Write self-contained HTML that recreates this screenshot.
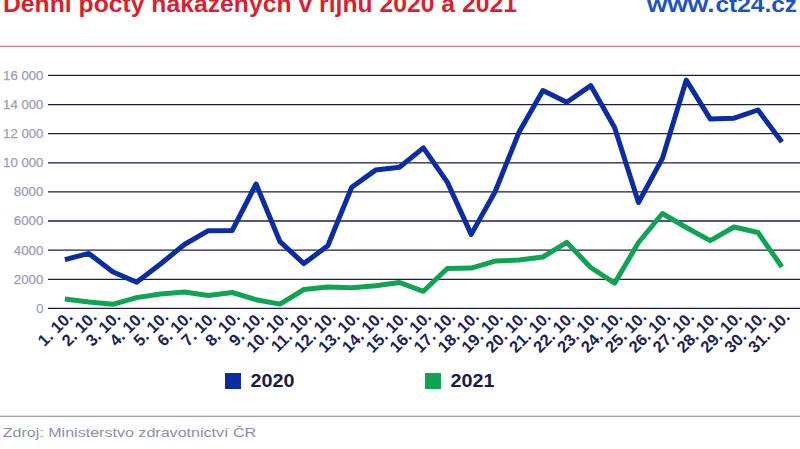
<!DOCTYPE html>
<html><head><meta charset="utf-8"><style>
html,body{margin:0;padding:0;background:#fff;width:800px;height:449px;overflow:hidden}
svg{display:block;font-family:"Liberation Sans",sans-serif}
</style></head><body>
<svg width="800" height="449" viewBox="0 0 800 449">
<text x="3" y="11.7" font-size="23.5" font-weight="bold" fill="#dc1f2e" textLength="514" lengthAdjust="spacingAndGlyphs">Denní počty nakažených v říjnu 2020 a 2021</text>
<g font-size="22" font-weight="bold" fill="#1d52c8"><text x="647" y="11.8" textLength="67.5" lengthAdjust="spacingAndGlyphs">www.</text><text x="715.5" y="11.8" textLength="81.5" lengthAdjust="spacingAndGlyphs">ct24.cz</text></g>
<rect x="0" y="45.7" width="800" height="1.2" fill="#c8787f"/>
<g font-size="12" fill="#9d9db9" stroke="#9d9db9" stroke-width="0.25">
<text x="36.2" y="312.7" textLength="7.2" lengthAdjust="spacingAndGlyphs">0</text>
<text x="13.8" y="283.6" textLength="29.6" lengthAdjust="spacingAndGlyphs">2000</text>
<text x="13.8" y="254.5" textLength="29.6" lengthAdjust="spacingAndGlyphs">4000</text>
<text x="13.8" y="225.3" textLength="29.6" lengthAdjust="spacingAndGlyphs">6000</text>
<text x="13.8" y="196.2" textLength="29.6" lengthAdjust="spacingAndGlyphs">8000</text>
<text x="3.1" y="167.1" textLength="40.3" lengthAdjust="spacingAndGlyphs">10 000</text>
<text x="3.1" y="138.0" textLength="40.3" lengthAdjust="spacingAndGlyphs">12 000</text>
<text x="3.1" y="108.9" textLength="40.3" lengthAdjust="spacingAndGlyphs">14 000</text>
<text x="3.1" y="79.7" textLength="40.3" lengthAdjust="spacingAndGlyphs">16 000</text>
</g>
<line x1="48" y1="308.4" x2="800" y2="308.4" stroke="#1c1c44" stroke-width="1.3"/>
<line x1="48" y1="279.3" x2="800" y2="279.3" stroke="#1c1c44" stroke-width="1.3"/>
<line x1="48" y1="250.2" x2="800" y2="250.2" stroke="#1c1c44" stroke-width="1.3"/>
<line x1="48" y1="221.0" x2="800" y2="221.0" stroke="#1c1c44" stroke-width="1.3"/>
<line x1="48" y1="191.9" x2="800" y2="191.9" stroke="#1c1c44" stroke-width="1.3"/>
<line x1="48" y1="162.8" x2="800" y2="162.8" stroke="#1c1c44" stroke-width="1.3"/>
<line x1="48" y1="133.7" x2="800" y2="133.7" stroke="#1c1c44" stroke-width="1.3"/>
<line x1="48" y1="104.6" x2="800" y2="104.6" stroke="#1c1c44" stroke-width="1.3"/>
<line x1="48" y1="75.4" x2="800" y2="75.4" stroke="#1c1c44" stroke-width="1.3"/>

<polyline points="64.9,299.0 88.8,302.1 112.7,304.3 136.6,297.6 160.5,294.0 184.4,292.1 208.3,295.4 232.2,292.5 256.1,299.7 280.0,304.1 303.9,289.5 327.8,287.0 351.7,287.7 375.6,285.7 399.5,282.5 423.4,291.3 447.3,268.5 471.2,268.1 495.1,261.1 519.0,260.1 542.9,257.0 566.8,242.4 590.7,267.5 614.6,283.2 638.5,242.5 662.4,213.5 686.3,227.5 710.2,240.6 734.1,227.0 758.0,232.5 781.9,267.0" fill="none" stroke="#0fa453" stroke-width="5" stroke-linejoin="round"/>
<polyline points="64.9,259.6 88.8,253.4 112.7,271.7 136.6,282.3 160.5,264.0 184.4,244.5 208.3,230.7 232.2,230.5 256.1,184.0 280.0,241.7 303.9,263.6 327.8,245.7 351.7,187.3 375.6,170.1 399.5,167.3 423.4,147.9 447.3,182.1 471.2,234.4 495.1,191.7 519.0,132.2 542.9,90.6 566.8,102.3 590.7,85.6 614.6,127.4 638.5,202.5 662.4,158.4 686.3,80.1 710.2,118.9 734.1,118.2 758.0,110.0 781.9,142.1" fill="none" stroke="#0c2ca4" stroke-width="5" stroke-linejoin="round"/>
<g font-size="16.5" font-weight="bold" fill="#1a1f5c">
<text transform="translate(73.8,318) rotate(-45)" text-anchor="end">1. 10.</text>
<text transform="translate(97.7,318) rotate(-45)" text-anchor="end">2. 10.</text>
<text transform="translate(121.6,318) rotate(-45)" text-anchor="end">3. 10.</text>
<text transform="translate(145.5,318) rotate(-45)" text-anchor="end">4. 10.</text>
<text transform="translate(169.4,318) rotate(-45)" text-anchor="end">5. 10.</text>
<text transform="translate(193.3,318) rotate(-45)" text-anchor="end">6. 10.</text>
<text transform="translate(217.2,318) rotate(-45)" text-anchor="end">7. 10.</text>
<text transform="translate(241.1,318) rotate(-45)" text-anchor="end">8. 10.</text>
<text transform="translate(265.0,318) rotate(-45)" text-anchor="end">9. 10.</text>
<text transform="translate(288.9,318) rotate(-45)" text-anchor="end">10. 10.</text>
<text transform="translate(312.8,318) rotate(-45)" text-anchor="end">11. 10.</text>
<text transform="translate(336.7,318) rotate(-45)" text-anchor="end">12. 10.</text>
<text transform="translate(360.6,318) rotate(-45)" text-anchor="end">13. 10.</text>
<text transform="translate(384.5,318) rotate(-45)" text-anchor="end">14. 10.</text>
<text transform="translate(408.4,318) rotate(-45)" text-anchor="end">15. 10.</text>
<text transform="translate(432.3,318) rotate(-45)" text-anchor="end">16. 10.</text>
<text transform="translate(456.2,318) rotate(-45)" text-anchor="end">17. 10.</text>
<text transform="translate(480.1,318) rotate(-45)" text-anchor="end">18. 10.</text>
<text transform="translate(504.0,318) rotate(-45)" text-anchor="end">19. 10.</text>
<text transform="translate(527.9,318) rotate(-45)" text-anchor="end">20. 10.</text>
<text transform="translate(551.8,318) rotate(-45)" text-anchor="end">21. 10.</text>
<text transform="translate(575.7,318) rotate(-45)" text-anchor="end">22. 10.</text>
<text transform="translate(599.6,318) rotate(-45)" text-anchor="end">23. 10.</text>
<text transform="translate(623.5,318) rotate(-45)" text-anchor="end">24. 10.</text>
<text transform="translate(647.4,318) rotate(-45)" text-anchor="end">25. 10.</text>
<text transform="translate(671.3,318) rotate(-45)" text-anchor="end">26. 10.</text>
<text transform="translate(695.2,318) rotate(-45)" text-anchor="end">27. 10.</text>
<text transform="translate(719.1,318) rotate(-45)" text-anchor="end">28. 10.</text>
<text transform="translate(743.0,318) rotate(-45)" text-anchor="end">29. 10.</text>
<text transform="translate(766.9,318) rotate(-45)" text-anchor="end">30. 10.</text>
<text transform="translate(790.8,318) rotate(-45)" text-anchor="end">31. 10.</text>
</g>
<rect x="225" y="373" width="16" height="16" fill="#0c2ca4"/>
<text x="250.5" y="387" font-size="18" font-weight="bold" fill="#1a1a4a" textLength="44" lengthAdjust="spacingAndGlyphs">2020</text>
<rect x="425" y="373" width="16" height="16" fill="#0fa453"/>
<text x="450.5" y="387" font-size="18" font-weight="bold" fill="#1a1a4a" textLength="44" lengthAdjust="spacingAndGlyphs">2021</text>
<rect x="0" y="415.7" width="800" height="1.2" fill="#9a9aa6"/>
<text x="2.7" y="436.5" font-size="13" fill="#8e8eab" textLength="253.5" lengthAdjust="spacingAndGlyphs">Zdroj: Ministerstvo zdravotnictví ČR</text>
</svg>
</body></html>
